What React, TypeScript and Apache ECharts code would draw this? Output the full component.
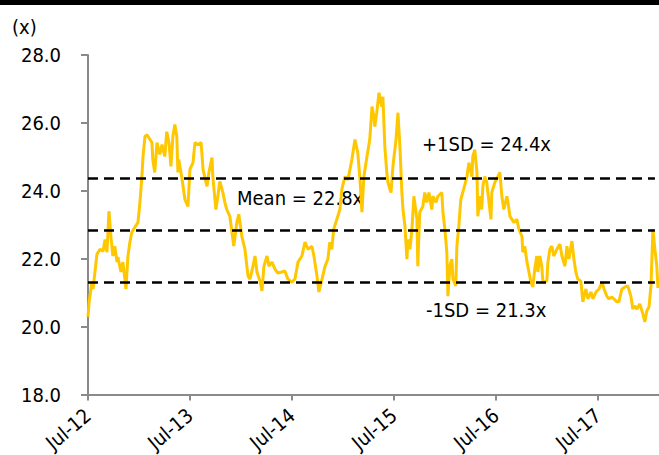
import React, { useEffect, useRef } from "react";
import * as echarts from "echarts";

// Trading P/E multiple (x), sampled from the chart
const dates: string[] = [
  "2012-07-01","2012-07-05","2012-07-15","2012-07-19","2012-08-02","2012-08-13","2012-08-24","2012-08-31",
  "2012-09-07","2012-09-14","2012-09-21","2012-09-28","2012-10-05","2012-10-13","2012-10-16","2012-10-27",
  "2012-11-03","2012-11-10","2012-11-14","2012-11-21","2012-11-28","2012-12-05","2012-12-16","2012-12-27",
  "2013-01-03","2013-01-10","2013-01-14","2013-01-21","2013-01-28","2013-02-08","2013-02-15","2013-02-18",
  "2013-02-25","2013-03-05","2013-03-15","2013-03-23","2013-04-02","2013-04-09","2013-04-17","2013-04-24",
  "2013-05-01","2013-05-08","2013-05-15","2013-05-19","2013-05-22","2013-06-02","2013-06-13","2013-06-24",
  "2013-07-01","2013-07-12","2013-07-19","2013-07-30","2013-08-10","2013-08-17","2013-08-31","2013-09-07",
  "2013-09-18","2013-09-21","2013-10-02","2013-10-09","2013-10-16","2013-10-27","2013-11-03","2013-11-10",
  "2013-11-21","2013-11-28","2013-12-05","2013-12-16","2013-12-23","2014-01-03","2014-01-14","2014-01-25",
  "2014-02-01","2014-02-12","2014-02-19","2014-02-26","2014-03-09","2014-03-16","2014-03-23","2014-04-03",
  "2014-04-10","2014-04-21","2014-05-01","2014-05-12","2014-05-26","2014-06-06","2014-06-17","2014-07-01",
  "2014-07-12","2014-07-23","2014-08-06","2014-08-17","2014-08-28","2014-09-11","2014-09-18","2014-09-29",
  "2014-10-06","2014-10-17","2014-10-28","2014-11-07","2014-11-14","2014-11-21","2014-11-28","2014-12-09",
  "2014-12-20","2014-12-27","2015-01-07","2015-01-18","2015-02-01","2015-02-12","2015-02-22","2015-03-02",
  "2015-03-09","2015-03-16","2015-03-27","2015-04-06","2015-04-14","2015-04-21","2015-04-24","2015-05-01",
  "2015-05-09","2015-05-19","2015-05-23","2015-05-30","2015-06-06","2015-06-10","2015-06-21","2015-06-28",
  "2015-07-09","2015-07-16","2015-07-23","2015-07-30","2015-08-03","2015-08-10","2015-08-17","2015-08-21",
  "2015-08-28","2015-09-04","2015-09-11","2015-09-22","2015-09-25","2015-10-02","2015-10-13","2015-10-20",
  "2015-10-27","2015-11-04","2015-11-14","2015-11-18","2015-11-29","2015-12-06","2015-12-20","2015-12-24",
  "2015-12-31","2016-01-07","2016-01-11","2016-01-18","2016-01-25","2016-01-29","2016-02-08","2016-02-12",
  "2016-02-19","2016-02-26","2016-03-04","2016-03-19","2016-03-26","2016-04-06","2016-04-09","2016-04-16",
  "2016-04-24","2016-04-27","2016-05-04","2016-05-11","2016-05-15","2016-05-22","2016-05-29","2016-06-06",
  "2016-06-13","2016-06-16","2016-06-27","2016-07-08","2016-07-15","2016-07-22","2016-07-29","2016-08-09",
  "2016-08-13","2016-08-20","2016-08-27","2016-09-03","2016-09-14","2016-09-21","2016-10-02","2016-10-05",
  "2016-10-12","2016-10-20","2016-10-27","2016-11-03","2016-11-10","2016-11-17","2016-11-24","2016-11-28",
  "2016-12-05","2016-12-12","2016-12-16","2016-12-30","2017-01-03","2017-01-10","2017-01-17","2017-01-24",
  "2017-02-04","2017-02-15","2017-02-22","2017-03-05","2017-03-12","2017-03-19","2017-03-30","2017-04-06",
  "2017-04-13","2017-04-20","2017-05-01","2017-05-08","2017-05-19","2017-05-26","2017-06-06","2017-06-13",
  "2017-06-24","2017-07-05","2017-07-16","2017-07-23","2017-08-02","2017-08-09","2017-08-20","2017-08-27",
  "2017-09-07","2017-09-14","2017-09-25","2017-10-06","2017-10-16","2017-10-27","2017-11-03","2017-11-10",
  "2017-11-18","2017-11-28","2017-12-09","2017-12-16","2017-12-23","2017-12-31","2018-01-07","2018-01-14",
  "2018-01-21","2018-01-28","2018-02-01"
];

const peValues: number[] = [
  20.29,20.73,21.31,21.11,22.13,22.28,22.22,22.57,
  22.19,23.40,22.66,22.08,22.37,21.90,22.05,21.61,
  21.90,21.40,21.11,22.08,22.49,22.78,22.93,23.07,
  23.66,24.42,25.01,25.60,25.65,25.51,25.42,24.92,
  24.54,25.42,25.07,25.36,25.01,25.74,25.42,24.72,
  25.60,25.95,25.60,24.54,24.92,24.39,23.75,23.54,
  24.63,24.83,25.42,25.36,25.42,24.63,24.13,24.54,
  24.98,24.42,23.45,23.84,24.28,23.95,23.66,23.45,
  23.25,22.81,22.37,23.07,23.31,22.66,22.28,21.49,
  21.40,21.78,22.08,21.61,21.34,21.05,21.78,22.08,
  21.78,21.90,21.70,21.58,21.61,21.64,21.40,21.31,
  21.40,21.90,22.08,22.49,22.28,22.37,22.08,21.49,
  21.02,21.40,21.78,21.99,22.49,22.28,22.87,23.16,
  23.45,24.04,24.42,24.33,24.92,25.51,25.13,24.33,
  23.37,24.42,25.01,25.51,26.48,26.18,25.89,26.30,
  26.89,26.48,26.77,25.30,24.54,24.25,23.95,24.72,
  25.51,26.30,25.30,23.95,23.45,22.96,21.99,22.57,
  22.28,22.87,23.84,23.16,21.78,23.37,23.54,23.95,
  23.66,23.95,23.45,23.84,23.66,23.84,23.95,23.37,
  22.87,22.19,20.90,21.78,21.99,21.40,21.20,22.37,
  22.96,23.75,23.95,24.42,24.83,24.42,25.01,25.21,
  24.54,23.25,23.84,23.45,24.13,24.42,24.25,23.66,
  23.16,23.95,24.25,24.42,24.54,23.84,23.45,23.84,
  23.66,23.25,23.16,23.07,23.16,22.87,22.66,22.19,
  22.37,21.90,21.61,21.31,21.17,21.70,22.08,21.61,
  22.08,21.78,21.31,21.34,21.90,22.28,22.37,22.08,
  22.28,22.43,22.08,21.78,22.37,21.99,22.52,21.99,
  21.61,21.40,21.34,20.73,21.11,20.82,21.02,20.82,
  21.02,21.11,21.31,21.11,20.90,20.82,20.87,20.82,
  20.73,20.73,21.11,21.17,21.20,20.90,20.52,20.61,
  20.52,20.67,20.38,20.14,20.46,20.58,21.20,22.87,
  22.28,21.78,21.14
];

const MEAN = 22.84;
const SD = 1.53;
const yTicks: number[] = [18, 20, 22, 24, 26, 28];
const xTickYears: string[] = ["Jul-12", "Jul-13", "Jul-14", "Jul-15", "Jul-16", "Jul-17"];

const FONT = "'DejaVu Sans Condensed', 'DejaVu Sans', sans-serif";
const BASE = Date.UTC(2012, 6, 1);
const MONTH_MS = 86400000 * 30.4375;
const toMonths = (d: string) => (Date.parse(d) - BASE) / MONTH_MS;

export default function App() {
  const ref = useRef<HTMLDivElement>(null);

  useEffect(() => {
    if (!ref.current) return;
    const chart = echarts.init(ref.current, undefined, { renderer: "svg" });
    const seriesData = dates.map((d, i) => [toMonths(d), peValues[i]]);
    const lineEnd = 66.7;
    const levels = [MEAN + SD, MEAN, MEAN - SD];

    chart.setOption({
      animation: false,
      backgroundColor: "#ffffff",
      grid: { left: 88, right: 0, top: 55, bottom: 59, containLabel: false },
      xAxis: {
        type: "value",
        min: 0,
        max: 67.18,
        interval: 12,
        splitLine: { show: false },
        axisLine: { show: true, lineStyle: { color: "#8a8a8a", width: 2 } },
        axisTick: { show: true, length: 6, lineStyle: { color: "#8a8a8a", width: 2 } },
        axisLabel: {
          showMaxLabel: false,
          rotate: 40,
          margin: 18,
          color: "#000",
          fontSize: 20,
          fontFamily: FONT,
          formatter: (v: number) => {
            const k = Math.round(v / 12);
            return Math.abs(v - k * 12) < 1e-6 && xTickYears[k] ? xTickYears[k] : "";
          },
        },
      },
      yAxis: {
        type: "value",
        min: yTicks[0],
        max: yTicks[yTicks.length - 1],
        interval: 2,
        splitLine: { show: false },
        axisLine: { show: true, lineStyle: { color: "#8a8a8a", width: 2 } },
        axisTick: { show: true, length: 7, lineStyle: { color: "#8a8a8a", width: 2 } },
        axisLabel: {
          margin: 27,
          color: "#000",
          fontSize: 20,
          fontFamily: FONT,
          formatter: (v: number) => v.toFixed(1),
        },
      },
      series: [
        {
          type: "line",
          data: seriesData,
          showSymbol: false,
          symbol: "none",
          lineStyle: { color: "#FFC700", width: 3 },
          markLine: {
            silent: true,
            symbol: "none",
            label: { show: false },
            lineStyle: { color: "#000", type: [10, 6], width: 2.5 },
            data: levels.map((v) => [{ coord: [0, v] }, { coord: [lineEnd, v] }]),
          },
        },
      ],
      graphic: [
        { type: "rect", left: 0, top: 0, shape: { width: 659, height: 5 }, style: { fill: "#000" } },
        { type: "text", left: 12, top: 17, style: { text: "(x)", font: `20px ${FONT}`, fill: "#000" } },
        {
          type: "text",
          left: 422,
          top: 134,
          style: { text: `+1SD = ${(MEAN + SD).toFixed(1)}x`, font: `20px ${FONT}`, fill: "#000" },
        },
        {
          type: "text",
          left: 237,
          top: 188,
          style: { text: `Mean = ${MEAN.toFixed(1)}x`, font: `20px ${FONT}`, fill: "#000" },
        },
        {
          type: "text",
          left: 426,
          top: 300,
          style: { text: `-1SD = ${(MEAN - SD).toFixed(1)}x`, font: `20px ${FONT}`, fill: "#000" },
        },
      ],
    });

    return () => chart.dispose();
  }, []);

  return (
    <div
      ref={ref}
      style={{ position: "fixed", left: 0, top: 0, width: 659, height: 455 }}
    />
  );
}
